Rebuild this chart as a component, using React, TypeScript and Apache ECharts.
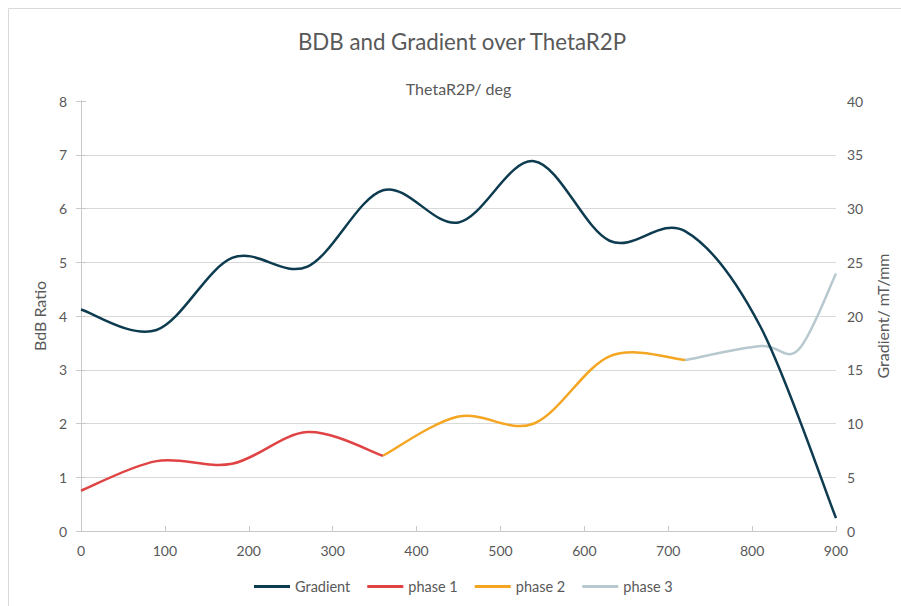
import React, { useEffect, useRef } from "react";
import * as echarts from "echarts";

const titleText = "BDB and Gradient over ThetaR2P";
const xAxisName = "ThetaR2P/ deg";
const leftAxisName = "BdB Ratio";
const rightAxisName = "Gradient/ mT/mm";

const gradientTheta = [0, 90, 180, 270, 360, 450, 540, 630, 720, 810, 900];
const gradientValues = [20.6, 18.7, 25.4, 24.6, 31.7, 28.7, 34.4, 27.0, 27.9, 19.0, 1.2];

const phase1Theta = [0, 90, 180, 270, 360];
const phase1Values = [0.75, 1.3, 1.25, 1.84, 1.4];

const phase2Theta = [360, 450, 540, 630, 720];
const phase2Values = [1.4, 2.13, 2.0, 3.25, 3.18];

const phase3Theta = [720, 810, 855, 900];
const phase3Values = [3.18, 3.44, 3.37, 4.79];

const seriesNames = ["Gradient", "phase 1", "phase 2", "phase 3"];
const seriesColors = ["#0d3b4f", "#e04343", "#f4a623", "#b7c8cf"];

const pairs = (xs: number[], ys: number[]) => xs.map((x, i) => [x, ys[i]]);

const FONT = "Lato, 'Open Sans', sans-serif";
const TEXT = "#595959";
const AXIS = "#c8c8c8";
const GRID = "#d9d9d9";

// Catmull-Rom spline through pixel points (as Excel's smoothed line)
const splinePath = (pts: number[][]) => {
  let d = `M${pts[0][0]},${pts[0][1]}`;
  for (let i = 0; i < pts.length - 1; i++) {
    const p0 = pts[i - 1] || pts[i];
    const p1 = pts[i];
    const p2 = pts[i + 1];
    const p3 = pts[i + 2] || p2;
    const c1x = p1[0] + (p2[0] - p0[0]) / 6;
    const c1y = p1[1] + (p2[1] - p0[1]) / 6;
    const c2x = p2[0] - (p3[0] - p1[0]) / 6;
    const c2y = p2[1] - (p3[1] - p1[1]) / 6;
    d += ` C${c1x},${c1y} ${c2x},${c2y} ${p2[0]},${p2[1]}`;
  }
  return d;
};

export default function App() {
  const ref = useRef<HTMLDivElement>(null);

  useEffect(() => {
    document.body.style.margin = "0";
    if (!ref.current) return;
    const chart = echarts.init(ref.current, undefined, { renderer: "svg" });

    const curveSeries = (idx: number, data: number[][], yAxisIndex: number) => ({
      name: seriesNames[idx],
      type: "custom",
      xAxisIndex: 0,
      yAxisIndex,
      data,
      encode: { x: 0, y: 1 },
      itemStyle: { color: seriesColors[idx] },
      z: idx === 0 ? 3 : 2,
      renderItem: (params: any, api: any) => {
        if (params.dataIndex !== 0) return null;
        const pts = data.map((p) => api.coord(p));
        return {
          type: "path",
          shape: { pathData: splinePath(pts) },
          style: { fill: "none", stroke: seriesColors[idx], lineWidth: 2.5, lineJoin: "round" },
        };
      },
    });

    chart.setOption({
      animation: false,
      backgroundColor: "#ffffff",
      textStyle: { fontFamily: FONT, color: TEXT },
      graphic: [
        {
          type: "rect",
          shape: { x: 8.5, y: 8.5, width: 1200, height: 1200 },
          style: { fill: "none", stroke: GRID, lineWidth: 1 },
          silent: true,
          z: -10,
        },
        {
          type: "text",
          x: 462,
          y: 41,
          style: {
            text: titleText,
            fontFamily: FONT,
            fontSize: 22.3,
            fill: TEXT,
            align: "center",
            verticalAlign: "middle",
          },
        },
      ],
      grid: { left: 81, right: 65, top: 101, bottom: 75, containLabel: false },
      legend: {
        left: 254,
        top: 579,
        padding: 0,
        icon: "rect",
        itemWidth: 36,
        itemHeight: 3,
        itemGap: 17,
        textStyle: { fontFamily: FONT, fontSize: 14.5, color: TEXT },
        data: seriesNames,
      },
      xAxis: [
        {
          type: "value",
          position: "top",
          min: 0,
          max: 900,
          interval: 100,
          name: xAxisName,
          nameLocation: "middle",
          nameGap: 5,
          nameTextStyle: { fontFamily: FONT, fontSize: 16, color: TEXT, verticalAlign: "bottom" },
          axisLine: { show: true, lineStyle: { color: AXIS, width: 1 } },
          axisTick: { show: true, inside: false, length: 5, lineStyle: { color: AXIS } },
          axisLabel: { show: false },
          splitLine: { show: false },
        },
        {
          type: "value",
          position: "bottom",
          min: 0,
          max: 900,
          interval: 100,
          axisLine: { show: false },
          axisTick: { show: false },
          axisLabel: { show: true, margin: 12, fontFamily: FONT, fontSize: 14, color: TEXT },
          splitLine: { show: false },
        },
      ],
      yAxis: [
        {
          type: "value",
          position: "left",
          min: 0,
          max: 8,
          interval: 1,
          name: leftAxisName,
          nameLocation: "middle",
          nameGap: 28,
          nameRotate: 90,
          nameTextStyle: { fontFamily: FONT, fontSize: 16, color: TEXT },
          axisLine: { show: true, lineStyle: { color: AXIS, width: 1 } },
          axisTick: { show: true, inside: false, length: 5, lineStyle: { color: AXIS } },
          axisLabel: { margin: 14, fontFamily: FONT, fontSize: 14, color: TEXT },
          splitLine: {
            show: true,
            lineStyle: {
              color: ["rgba(0,0,0,0)", GRID, GRID, GRID, GRID, GRID, GRID, GRID, "rgba(0,0,0,0)"],
              width: 1,
            },
          },
        },
        {
          type: "value",
          position: "right",
          min: 0,
          max: 40,
          interval: 5,
          name: rightAxisName,
          nameLocation: "middle",
          nameGap: 38,
          nameRotate: 90,
          nameTextStyle: { fontFamily: FONT, fontSize: 16, color: TEXT },
          axisLine: { show: true, lineStyle: { color: AXIS, width: 1 } },
          axisTick: { show: true, inside: false, length: 5, lineStyle: { color: AXIS } },
          axisLabel: { margin: 11, fontFamily: FONT, fontSize: 14, color: TEXT },
          splitLine: { show: false },
        },
      ],
      series: [
        curveSeries(0, pairs(gradientTheta, gradientValues), 1),
        curveSeries(1, pairs(phase1Theta, phase1Values), 0),
        curveSeries(2, pairs(phase2Theta, phase2Values), 0),
        curveSeries(3, pairs(phase3Theta, phase3Values), 0),
      ],
    });

    return () => chart.dispose();
  }, []);

  return <div ref={ref} style={{ width: 901, height: 606 }} />;
}
